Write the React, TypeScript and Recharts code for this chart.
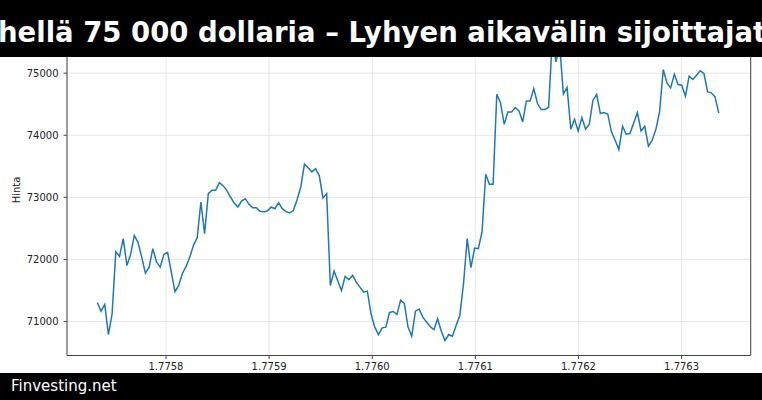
import { LineChart, Line, XAxis, YAxis, CartesianGrid } from "recharts";

const TITLE = "hellä 75 000 dollaria – Lyhyen aikavälin sijoittajat";
const FOOTER = "Finvesting.net";
const Y_LABEL = "Hinta";

const X_TICKS = [1.7758, 1.7759, 1.776, 1.7761, 1.7762, 1.7763];
const Y_TICKS = [71000, 72000, 73000, 74000, 75000];

// sample times run evenly from first to last
const X_FIRST = 1.7757334;
const X_LAST = 1.776336;

const PRICES = [
  71306, 71166, 71274, 70790, 71124, 72124, 72048, 72334, 71903, 72081,
  72387, 72274, 72037, 71780, 71876, 72173, 71960, 71876, 72081, 72113,
  71796, 71479, 71581, 71774, 71887, 72037, 72226, 72350, 72924, 72414,
  73060, 73113, 73113, 73237, 73188, 73113, 73005, 72908, 72844, 72940,
  72978, 72887, 72833, 72833, 72774, 72769, 72779, 72844, 72817, 72914,
  72817, 72769, 72747, 72790, 72962, 73167, 73535, 73475, 73410, 73460,
  73350, 72990, 73060, 71580, 71812, 71655, 71500, 71726, 71672, 71742,
  71634, 71554, 71473, 71489, 71124, 70909, 70790, 70898, 70909, 71145,
  71161, 71113, 71345, 71290, 70909, 70763, 71166, 71199, 71070, 70990,
  70919, 70866, 71043, 70844, 70694, 70790, 70763, 70935, 71097, 71608,
  72334, 71866, 72183, 72173, 72441, 73371, 73210, 73210, 74661, 74525,
  74175, 74376, 74376, 74447, 74393, 74215, 74553, 74553, 74753, 74511,
  74414, 74414, 74447, 75534, 75182, 75450, 74665, 74769, 74097, 74258,
  74070, 74285, 74097, 74177, 74565, 74656, 74350, 74366, 74339, 74055,
  73919, 73769, 74145, 74016, 74027, 74199, 74366, 74070, 74145, 73823,
  73919, 74091, 74376, 75059, 74844, 74763, 74984, 74817, 74806, 74629,
  74952, 74898, 74968, 75037, 74995, 74699, 74683, 74618, 74360,
];

const data = PRICES.map((price, i) => ({
  t: X_FIRST + ((X_LAST - X_FIRST) * i) / (PRICES.length - 1),
  price,
}));

const AXIS = "#444";
const TEXT = "#222";

export default function App() {
  return (
    <div
      style={{
        position: "absolute",
        left: 0,
        top: 0,
        width: 762,
        height: 400,
        background: "#fff",
        overflow: "hidden",
        fontFamily: "'DejaVu Sans', sans-serif",
      }}
    >
      <LineChart width={762} height={400} data={data} margin={{ top: 25, right: 10.3, bottom: 14.5, left: 0 }}>
        <CartesianGrid yAxisId="l" stroke="#e6e6e6" />
        <XAxis
          dataKey="t"
          type="number"
          domain={[1.775704, 1.776367]}
          allowDataOverflow
          ticks={X_TICKS}
          interval={0}
          tickFormatter={(v: number) => v.toFixed(4)}
          height={30}
          tickSize={3.5}
          tickMargin={3.5}
          axisLine={{ stroke: AXIS }}
          tickLine={{ stroke: AXIS }}
          tick={{ fontSize: 10, fill: TEXT }}
        />
        <YAxis
          yAxisId="l"
          type="number"
          domain={[70452, 75776]}
          allowDataOverflow
          ticks={Y_TICKS}
          interval={0}
          width={67}
          tickSize={3.5}
          tickMargin={5}
          axisLine={{ stroke: AXIS }}
          tickLine={{ stroke: AXIS }}
          tick={{ fontSize: 10, fill: TEXT }}
        />
        <YAxis
          yAxisId="r"
          orientation="right"
          type="number"
          domain={[70452, 75776]}
          width={1}
          tick={false}
          tickLine={false}
          axisLine={{ stroke: AXIS }}
        />
        <Line
          yAxisId="l"
          type="linear"
          dataKey="price"
          stroke="#1f77b4"
          strokeWidth={1.5}
          dot={false}
          isAnimationActive={false}
        />
      </LineChart>

      <div
        style={{
          position: "absolute",
          left: 16,
          top: 190,
          transform: "translate(-50%, -50%) rotate(-90deg)",
          fontSize: 10,
          color: TEXT,
          whiteSpace: "nowrap",
        }}
      >
        {Y_LABEL}
      </div>

      <div
        style={{
          position: "absolute",
          left: 0,
          top: 0,
          width: 762,
          height: 57,
          background: "#000",
          overflow: "hidden",
        }}
      >
        <span
          style={{
            position: "absolute",
            left: -2,
            top: 15.5,
            whiteSpace: "nowrap",
            color: "#fff",
            fontWeight: "bold",
            fontSize: 27.5,
            lineHeight: "normal",
          }}
        >
          {TITLE}
        </span>
      </div>

      <div
        style={{
          position: "absolute",
          left: 0,
          top: 373,
          width: 762,
          height: 27,
          background: "#000",
        }}
      >
        <span
          style={{
            position: "absolute",
            left: 11,
            top: 3.6,
            whiteSpace: "nowrap",
            color: "#fff",
            fontSize: 15,
            lineHeight: "normal",
          }}
        >
          {FOOTER}
        </span>
      </div>
    </div>
  );
}
